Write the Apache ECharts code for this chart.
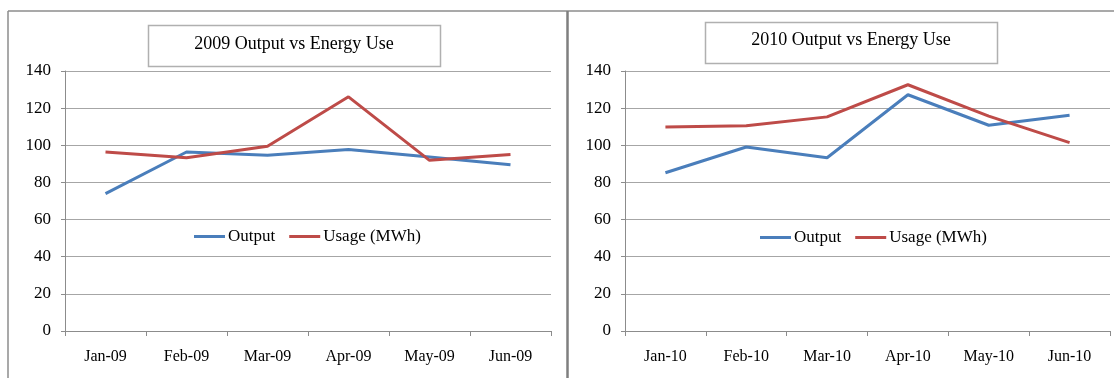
<!DOCTYPE html>
<html>
<head>
<meta charset="utf-8">
<script src="https://cdn.jsdelivr.net/npm/echarts@6/dist/echarts.min.js"></script>
<style>
html,body{margin:0;padding:0;background:#fff;}
#c{width:1114px;height:378px;}
</style>
</head>
<body>
<div id="c"></div>
<script>
const months2009 = ['Jan-09','Feb-09','Mar-09','Apr-09','May-09','Jun-09'];
const months2010 = ['Jan-10','Feb-10','Mar-10','Apr-10','May-10','Jun-10'];
const output2009 = [74, 96.4, 94.6, 97.7, 93.7, 89.5];
const usage2009  = [96.4, 93.3, 99.5, 126.1, 91.9, 95.0];
const output2010 = [85.2, 99.1, 93.3, 127.2, 110.8, 116.2];
const usage2010  = [109.9, 110.5, 115.3, 132.6, 115.7, 101.4];
const yTicks = [0, 20, 40, 60, 80, 100, 120, 140];
const titles = ['2009 Output vs Energy Use', '2010 Output vs Energy Use'];
const seriesNames = ['Output', 'Usage (MWh)'];

const FONT = '"Liberation Serif", "DejaVu Serif", serif';
const BLUE = '#4a7ebb';
const RED = '#be4b48';
const GRID = '#a6a6a6';
const AXIS = '#8c8c8c';

const chart = echarts.init(document.getElementById('c'), null, {renderer: 'canvas'});

function xAx(gi, cats) {
  return {
    type: 'category', gridIndex: gi, data: cats, boundaryGap: true,
    axisLine: {show: true, lineStyle: {color: AXIS, width: 1}},
    axisTick: {show: true, length: 5, alignWithLabel: false, lineStyle: {color: AXIS}},
    axisLabel: {color: '#000', fontFamily: FONT, fontSize: 16, margin: 18},
    splitLine: {show: false}
  };
}
function yAx(gi) {
  return {
    type: 'value', gridIndex: gi, min: yTicks[0], max: yTicks[yTicks.length - 1], interval: 20,
    axisLine: {show: true, lineStyle: {color: AXIS, width: 1}},
    axisTick: {show: true, length: 4, lineStyle: {color: AXIS}},
    axisLabel: {color: '#000', fontFamily: FONT, fontSize: 17, margin: 14},
    splitLine: {show: true, lineStyle: {color: GRID, width: 1}}
  };
}
function ln(name, data, color, xi) {
  return {
    name: name, type: 'line', data: data, xAxisIndex: xi, yAxisIndex: xi,
    symbol: 'none', showSymbol: false, smooth: false,
    lineStyle: {color: color, width: 3}, itemStyle: {color: color},
    emphasis: {disabled: true}, animation: false
  };
}

const option = {
  animation: false,
  backgroundColor: '#fff',
  title: [
    {text: titles[0], left: 294, top: 34, textAlign: 'center', padding: 0,
     textStyle: {fontFamily: FONT, fontSize: 18, fontWeight: 'normal', color: '#000', lineHeight: 20}},
    {text: titles[1], left: 851, top: 30, textAlign: 'center', padding: 0,
     textStyle: {fontFamily: FONT, fontSize: 18, fontWeight: 'normal', color: '#000', lineHeight: 20}}
  ],
  legend: [
    {data: seriesNames, left: 194, top: 228, padding: 0, itemGap: 14, itemWidth: 31, itemHeight: 3,
     icon: 'rect', selectedMode: false,
     textStyle: {fontFamily: FONT, fontSize: 17, color: '#000', padding: [0, 0, 0, -2]}},
    {data: seriesNames, left: 760, top: 229, padding: 0, itemGap: 14, itemWidth: 31, itemHeight: 3,
     icon: 'rect', selectedMode: false,
     textStyle: {fontFamily: FONT, fontSize: 17, color: '#000', padding: [0, 0, 0, -2]}}
  ],
  grid: [
    {left: 65, right: 563, top: 71, bottom: 47, containLabel: false},
    {left: 625, right: 4, top: 71, bottom: 47, containLabel: false}
  ],
  xAxis: [xAx(0, months2009), xAx(1, months2010)],
  yAxis: [yAx(0), yAx(1)],
  series: [
    ln(seriesNames[0], output2009, BLUE, 0),
    ln(seriesNames[1], usage2009, RED, 0),
    ln(seriesNames[0], output2010, BLUE, 1),
    ln(seriesNames[1], usage2010, RED, 1)
  ],
  graphic: [
    {type: 'line', shape: {x1: 8, y1: 11, x2: 1114, y2: 11}, style: {stroke: '#8c8c8c', lineWidth: 1.5}, z: 100},
    {type: 'line', shape: {x1: 8, y1: 11, x2: 8, y2: 378}, style: {stroke: '#8c8c8c', lineWidth: 1.5}, z: 100},
    {type: 'line', shape: {x1: 567.5, y1: 11, x2: 567.5, y2: 378}, style: {stroke: '#7f7f7f', lineWidth: 2.5}, z: 100},
    {type: 'rect', shape: {x: 148.5, y: 25.5, width: 292, height: 41}, style: {fill: 'none', stroke: '#b0b0b0', lineWidth: 1.5}, z: 100},
    {type: 'rect', shape: {x: 705.5, y: 22.5, width: 292, height: 41}, style: {fill: 'none', stroke: '#b0b0b0', lineWidth: 1.5}, z: 100}
  ]
};
chart.setOption(option);
</script>
</body>
</html>
